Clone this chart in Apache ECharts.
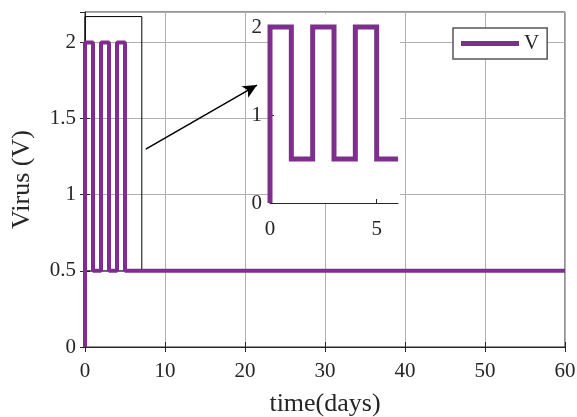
<!DOCTYPE html>
<html>
<head>
<meta charset="utf-8">
<script src="https://cdn.jsdelivr.net/npm/echarts@6/dist/echarts.min.js"></script>
<style>html,body{margin:0;padding:0;background:#fff}#c{width:577px;height:417px}</style>
</head>
<body>
<div id="c"></div>
<script>
// ---- data ----
var timeDays = [0, 0, 1, 1, 2, 2, 3, 3, 4, 4, 5, 5, 60];
var virusV   = [0, 2, 2, 0.5, 0.5, 2, 2, 0.5, 0.5, 2, 2, 0.5, 0.5];
var xTicksMain = [0, 10, 20, 30, 40, 50, 60];
var yTicksMain = [0, 0.5, 1, 1.5, 2];
var insetXMax = 6;
var zoomBox = [[0, 2.17], [7.1, 0.5]];      // rectangle marking the zoomed region
var arrowLine = [[7.6, 1.30], [21.5, 1.72]]; // arrow towards the inset

var FONT = '"Liberation Serif","Times New Roman",serif';
var TXT = '#262626';
var PURPLE = '#7E2F8E';

var mainData = timeDays.map(function (t, i) { return [t, virusV[i]]; });
var insetData = [];
for (var i = 0; i < timeDays.length; i++) {
  if (timeDays[i] <= insetXMax) insetData.push([timeDays[i], virusV[i]]);
  else { insetData.push([insetXMax, virusV[i]]); break; }
}

var chart = echarts.init(document.getElementById('c'), null, {renderer: 'canvas'});
var G = {left: 85, top: 12, width: 480, height: 335};
var GI = {left: 270, top: 27, width: 128, height: 176};

chart.setOption({
  animation: false,
  backgroundColor: '#fff',
  textStyle: {fontFamily: FONT, color: TXT},
  grid: [
    {left: G.left, top: G.top, width: G.width, height: G.height, show: true, borderColor: TXT, borderWidth: 1, backgroundColor: '#fff', containLabel: false, outerBoundsMode: 'none'},
    {left: GI.left, top: GI.top, width: GI.width, height: GI.height, show: false, z: 5, containLabel: false, outerBoundsMode: 'none'}
  ],
  graphic: [{
    type: 'rect', z: 1,
    shape: {x: 268, y: 14, width: 132, height: 189},
    style: {fill: '#fff'}
  }],
  legend: {
    data: ['V'], left: 453, top: 28, padding: [5, 8],
    borderColor: '#555', borderWidth: 1.5, backgroundColor: '#fff',
    icon: 'rect', itemWidth: 58, itemHeight: 5, itemGap: 5,
    textStyle: {fontFamily: FONT, fontSize: 21, color: TXT}
  },
  xAxis: [
    {type: 'value', gridIndex: 0, min: 0, max: 60, interval: 10, position: 'bottom',
     name: 'time(days)', nameLocation: 'middle', nameGap: 44,
     nameTextStyle: {fontFamily: FONT, fontSize: 26, color: TXT},
     axisLine: {show: true, lineStyle: {color: TXT, width: 1}},
     axisTick: {show: true, inside: true, length: 5, lineStyle: {color: TXT}},
     axisLabel: {fontFamily: FONT, fontSize: 21, color: TXT, margin: 14},
     splitLine: {show: true, lineStyle: {color: '#b0b0b0', width: 1}}},
    {type: 'value', gridIndex: 0, min: 0, max: 60, interval: 10, position: 'top',
     axisLine: {show: false}, axisLabel: {show: false}, splitLine: {show: false},
     axisTick: {show: true, inside: true, length: 5, lineStyle: {color: TXT}}},
    {type: 'value', gridIndex: 1, min: 0, max: insetXMax, interval: 5, z: 5,
     axisLine: {show: true, onZero: false, lineStyle: {color: TXT, width: 1}},
     axisTick: {show: true, inside: true, length: 4, lineStyle: {color: TXT}},
     axisLabel: {fontFamily: FONT, fontSize: 21, color: TXT, margin: 16, showMaxLabel: false},
     splitLine: {show: false}}
  ],
  yAxis: [
    {type: 'value', gridIndex: 0, min: 0, max: 2.2, interval: 0.5, position: 'left',
     name: 'Virus (V)', nameLocation: 'middle', nameGap: 50, nameRotate: 90,
     nameTextStyle: {fontFamily: FONT, fontSize: 26, color: TXT},
     axisLine: {show: true, lineStyle: {color: TXT, width: 1}},
     axisTick: {show: true, inside: true, length: 5, lineStyle: {color: TXT}},
     axisLabel: {fontFamily: FONT, fontSize: 21, color: TXT, margin: 9, showMaxLabel: false},
     splitLine: {show: true, lineStyle: {color: '#b0b0b0', width: 1}}},
    {type: 'value', gridIndex: 0, min: 0, max: 2.2, interval: 0.5, position: 'right',
     axisLine: {show: false}, axisLabel: {show: false}, splitLine: {show: false},
     axisTick: {show: true, inside: true, length: 5, lineStyle: {color: TXT}}},
    {type: 'value', gridIndex: 1, min: 0, max: 2, interval: 1, z: 5,
     axisLine: {show: true, onZero: false, lineStyle: {color: TXT, width: 1}},
     axisTick: {show: true, inside: true, length: 4, lineStyle: {color: TXT}},
     axisLabel: {fontFamily: FONT, fontSize: 21, color: TXT, margin: 8},
     splitLine: {show: false}}
  ],
  series: [
    {name: 'V', type: 'line', xAxisIndex: 0, yAxisIndex: 0, data: mainData, z: 2,
     showSymbol: false, symbol: 'none', color: PURPLE,
     lineStyle: {color: PURPLE, width: 4},
     markArea: {silent: true, itemStyle: {color: 'rgba(0,0,0,0)', borderColor: '#000', borderWidth: 1},
       data: [[{coord: zoomBox[0]}, {coord: zoomBox[1]}]]},
     markLine: {silent: true, symbol: ['none', 'arrow'], symbolSize: [10, 14],
       lineStyle: {color: '#000', width: 1.5, type: 'solid'}, label: {show: false},
       data: [[{coord: arrowLine[0]}, {coord: arrowLine[1]}]]}},
    {name: 'Vinset', type: 'line', xAxisIndex: 2, yAxisIndex: 2, data: insetData, z: 6,
     showSymbol: false, symbol: 'none', color: PURPLE, clip: false,
     lineStyle: {color: PURPLE, width: 5, join: 'miter'}}
  ]
});
</script>
</body>
</html>
